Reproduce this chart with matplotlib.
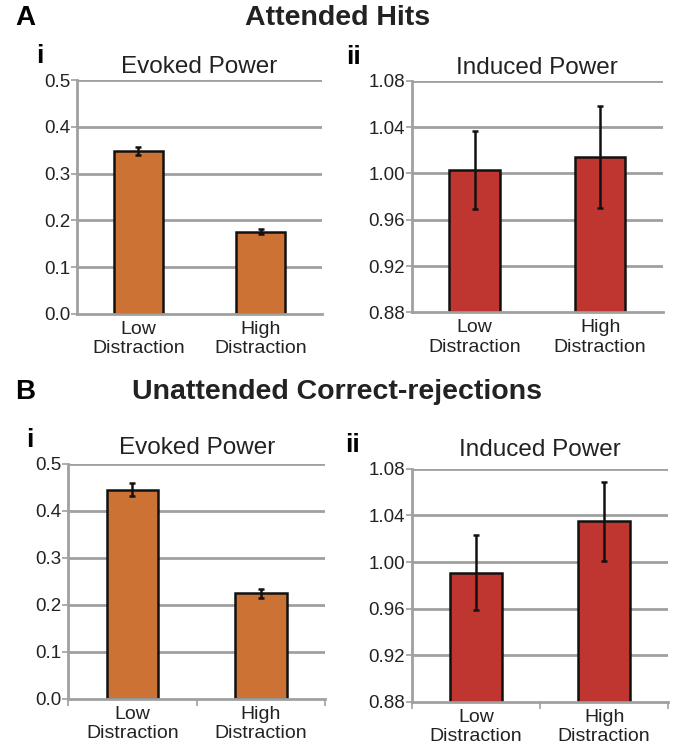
import matplotlib
matplotlib.use("Agg")
import matplotlib.pyplot as plt
import numpy as np

plt.rcParams['font.family'] = ['Liberation Sans', 'DejaVu Sans']

categories = ['Low\nDistraction', 'High\nDistraction']

# A: attended hits
a_evoked = [0.348, 0.176]
a_evoked_err = [0.008, 0.005]
a_induced = [1.003, 1.014]
a_induced_err = [0.034, 0.044]

# B: unattended correct-rejections
b_evoked = [0.445, 0.224]
b_evoked_err = [0.014, 0.010]
b_induced = [0.991, 1.035]
b_induced_err = [0.032, 0.034]

evoked_ticks = [0.0, 0.1, 0.2, 0.3, 0.4, 0.5]
induced_ticks = [0.88, 0.92, 0.96, 1.00, 1.04, 1.08]

orange = '#cc7235'
red = '#bf3630'
grid_c = '#a0a0a0'

fig = plt.figure(figsize=(6.75, 7.49), dpi=100)


def panel(rect, vals, errs, color, ticks, fmt, title, roman, bticks, tpad):
    ax = fig.add_axes(rect)
    x = np.arange(len(vals))
    ax.set_ylim(ticks[0], ticks[-1])
    ax.set_xlim(-0.5, 1.5)
    ax.set_yticks(ticks)
    ax.set_yticklabels([fmt % t for t in ticks], fontsize=13.5, color='#222222')
    for t in ticks[1:]:
        ax.axhline(t, color=grid_c, lw=2, zorder=0)
    ax.bar(x, np.array(vals) - ticks[0], width=0.4, bottom=ticks[0], color=color,
           edgecolor='#111111', linewidth=1.8, zorder=2)
    ax.errorbar(x, vals, yerr=errs, fmt='none', ecolor='#111111', elinewidth=1.8,
                capsize=2.5, capthick=1.8, zorder=3)
    ax.set_xticks(x)
    ax.set_xticklabels(categories, fontsize=14, color='#222222', linespacing=1.2)
    ax.tick_params(axis='x', length=0, pad=5)
    ax.tick_params(axis='y', length=4, width=1.2, color=grid_c, pad=1)
    if bticks:
        ax.set_xticks([-0.5, 0.5, 1.5], minor=True)
        ax.tick_params(axis='x', which='minor', length=5, width=1.2, color=grid_c)
    for s in ['top', 'right']:
        ax.spines[s].set_visible(False)
    for s in ['left', 'bottom']:
        ax.spines[s].set_color(grid_c)
        ax.spines[s].set_linewidth(2)
    ax.set_title(title, fontsize=17.5, color='#222222', pad=tpad)
    ax.text(-0.15 if roman == 'i' else -0.23, 1.05, roman, transform=ax.transAxes,
            fontsize=19, fontweight='bold', ha='center', va='bottom')
    return ax


panel([0.114, 0.581, 0.363, 0.312], a_evoked, a_evoked_err, orange,
      evoked_ticks, '%.1f', 'Evoked Power', 'i', False, 5)
panel([0.610, 0.583, 0.372, 0.309], a_induced, a_induced_err, red,
      induced_ticks, '%.2f', 'Induced Power', 'ii', False, 5)
panel([0.101, 0.067, 0.381, 0.314], b_evoked, b_evoked_err, orange,
      evoked_ticks, '%.1f', 'Evoked Power', 'i', True, 7)
panel([0.610, 0.063, 0.380, 0.311], b_induced, b_induced_err, red,
      induced_ticks, '%.2f', 'Induced Power', 'ii', True, 9)

fig.text(0.022, 0.976, 'A', fontsize=20, fontweight='bold', va='center')
fig.text(0.5, 0.976, 'Attended Hits', fontsize=20.5, fontweight='bold', ha='center', va='center', color='#222222')
fig.text(0.022, 0.477, 'B', fontsize=20, fontweight='bold', va='center')
fig.text(0.5, 0.477, 'Unattended Correct-rejections', fontsize=20.5, fontweight='bold', ha='center', va='center', color='#222222')

fig.savefig('out.png', dpi=100)
